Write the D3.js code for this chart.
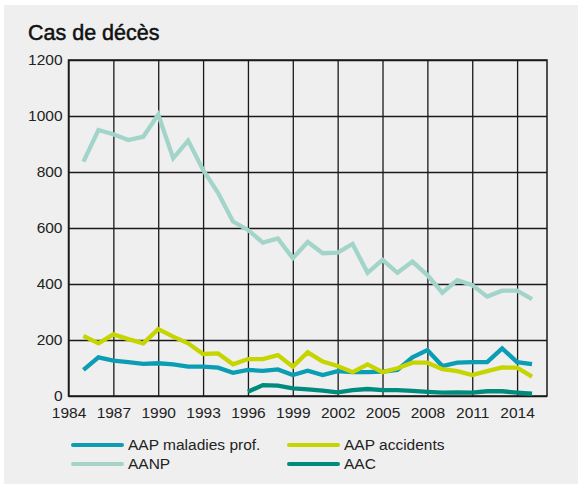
<!DOCTYPE html>
<html>
<head>
<meta charset="utf-8">
<script src="https://cdn.jsdelivr.net/npm/d3@7"></script>
<style>
  body { margin: 0; background: #fff; }
  svg { display: block; font-family: "Liberation Sans", Arial, sans-serif; }
</style>
</head>
<body>
<div id="vis"></div>
<script>
var years = d3.range(1985, 2016);
var yearsAac = d3.range(1996, 2016);

var aapMaladies = [93, 138, 126, 121, 115, 117, 113, 105, 105, 101, 83, 93, 90, 95, 75, 90,
  75, 89, 85, 85, 87, 93, 138, 164, 107, 119, 121, 121, 170, 121, 114];
var aapAccidents = [215, 188, 220, 203, 188, 239, 212, 188, 150, 152, 113, 132, 132, 146, 105, 156,
  123, 107, 85, 113, 85, 99, 119, 119, 96, 89, 75, 89, 102, 101, 69];
var aanp = [837, 950, 935, 914, 926, 1005, 849, 912, 807, 726, 623, 593, 548, 563, 492, 550,
  510, 512, 543, 440, 486, 440, 480, 432, 369, 414, 396, 355, 376, 376, 346];
var aac = [15, 39, 37, 27, 24, 19, 13, 21, 25, 21, 21, 18, 15, 12, 13, 12, 17, 17, 12, 8];

var yTicks = [0, 200, 400, 600, 800, 1000, 1200];
var xTicks = [1984, 1987, 1990, 1993, 1996, 1999, 2002, 2005, 2008, 2011, 2014];

var series = [
  {name: "AANP", color: "#a3d4c9", x: years, y: aanp},
  {name: "AAP maladies prof.", color: "#0a9db4", x: years, y: aapMaladies},
  {name: "AAP accidents", color: "#c6d400", x: years, y: aapAccidents},
  {name: "AAC", color: "#008c7c", x: yearsAac, y: aac}
];

var legendItems = [
  {name: "AAP maladies prof.", color: "#0a9db4", col: 0, row: 0},
  {name: "AAP accidents", color: "#c6d400", col: 1, row: 0},
  {name: "AANP", color: "#a3d4c9", col: 0, row: 1},
  {name: "AAC", color: "#008c7c", col: 1, row: 1}
];

var W = 578, H = 484;
var margin = {top: 60, right: 31, bottom: 88, left: 68.5};
var width = W - margin.left - margin.right;
var height = H - margin.top - margin.bottom;

var svg = d3.select("div#vis")
  .append("svg")
  .attr("width", W)
  .attr("height", H);

svg.append("rect")
  .attr("x", 4).attr("y", 5)
  .attr("width", W - 4).attr("height", H - 5)
  .attr("fill", "#efefef");

svg.append("text")
  .attr("x", 28)
  .attr("y", 40)
  .attr("font-size", 21.5)
  .attr("fill", "#111")
  .attr("stroke", "#111")
  .attr("stroke-width", 0.5)
  .text("Cas de décès");

var g = svg.append("g")
  .attr("transform", "translate(" + margin.left + "," + margin.top + ")");

var x = d3.scaleLinear().domain([1984, 2016]).range([0, width]);
var y = d3.scaleLinear().domain([0, 1200]).range([height, 0]);

function styleAxis(a) {
  a.attr("font-family", null).attr("font-size", null);
  a.select(".domain").remove();
  a.selectAll("line").attr("stroke", "#1a1a1a").attr("stroke-width", 1.3);
  a.selectAll("text").attr("font-size", 15.5).attr("fill", "#222");
}

// grid + axes
g.append("g")
  .attr("class", "axis")
  .call(d3.axisLeft(y).tickValues(yTicks).tickFormat(d3.format("d")).tickSizeInner(-width).tickSizeOuter(0).tickPadding(6))
  .call(styleAxis);

g.append("g")
  .attr("class", "axis")
  .attr("transform", "translate(0," + height + ")")
  .call(d3.axisBottom(x).tickValues(xTicks).tickFormat(d3.format("d")).tickSizeInner(-height).tickSizeOuter(0).tickPadding(11))
  .call(styleAxis);

g.append("rect")
  .attr("width", width)
  .attr("height", height)
  .attr("fill", "none")
  .attr("stroke", "#1a1a1a")
  .attr("stroke-width", 1.5);

var line = d3.line()
  .x(function(d) { return x(d[0]); })
  .y(function(d) { return y(d[1]); });

g.selectAll(".series")
  .data(series)
  .enter().append("path")
  .attr("class", "series")
  .attr("fill", "none")
  .attr("stroke", function(d) { return d.color; })
  .attr("stroke-width", 4.3)
  .attr("stroke-linejoin", "miter")
  .attr("d", function(d) { return line(d3.zip(d.x, d.y)); });

// legend
var legend = svg.selectAll(".legend")
  .data(legendItems)
  .enter().append("g")
  .attr("class", "legend")
  .attr("transform", function(d) { return "translate(" + (73 + d.col * 216) + "," + (445 + d.row * 19) + ")"; });

legend.append("line")
  .attr("x1", 0).attr("x2", 49)
  .attr("stroke", function(d) { return d.color; })
  .attr("stroke-width", 4)
  .attr("stroke-linecap", "round");

legend.append("text")
  .attr("x", 55)
  .attr("dy", "0.35em")
  .attr("font-size", 15.5)
  .attr("fill", "#222")
  .text(function(d) { return d.name; });
</script>
</body>
</html>
